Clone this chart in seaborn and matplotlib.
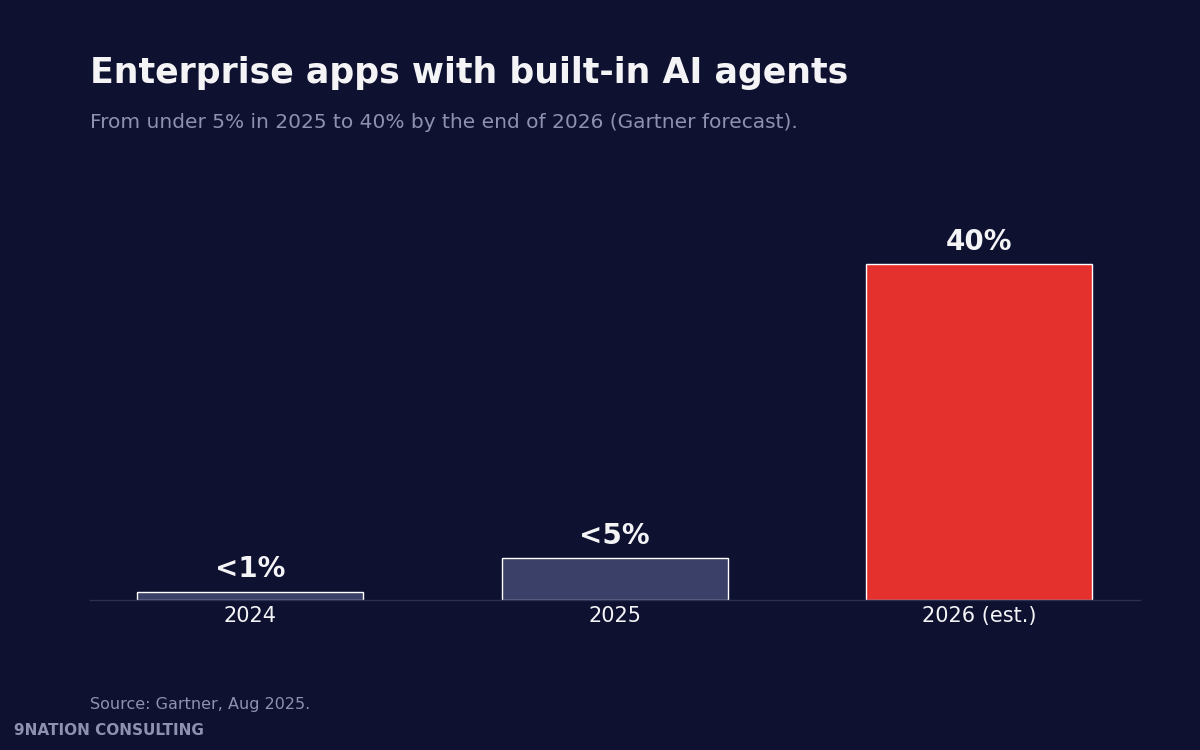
import matplotlib
matplotlib.use("Agg")
import matplotlib.pyplot as plt
import seaborn as sns
import pandas as pd

BG = "#0E1130"
MUTED_BAR = "#3B4068"
RED = "#E5312D"
LIGHT = "#F4F4F6"
MUTED = "#8E92B0"

years = ["2024", "2025", "2026 (est.)"]
shares = [1, 5, 40]
labels = ["<1%", "<5%", "40%"]
colors = [MUTED_BAR, MUTED_BAR, RED]

df = pd.DataFrame({"year": years, "share": shares})

sns.set_theme(style="white")
plt.rcParams["font.family"] = ["DejaVu Sans"]

fig = plt.figure(figsize=(12, 7.5), dpi=100, facecolor=BG)
ax = fig.add_axes([0.075, 0.2, 0.875, 0.56], facecolor=BG)

sns.barplot(data=df, x="year", y="share", hue="year", palette=colors,
            legend=False, width=0.62, saturation=1, ax=ax)

for i, (v, t) in enumerate(zip(shares, labels)):
    ax.text(i, v + 1.0, t, ha="center", va="bottom", color=LIGHT,
            fontsize=20, fontweight="bold")

ax.set_xlim(-0.44, 2.442)
ax.set_ylim(0, 50)
ax.set_xlabel("")
ax.set_ylabel("")
ax.set_yticks([])
for s in ["top", "right", "left"]:
    ax.spines[s].set_visible(False)
ax.spines["bottom"].set_color("#2C3052")
ax.spines["bottom"].set_linewidth(1)
ax.tick_params(axis="x", colors=LIGHT, labelsize=15, length=0, pad=4)

fig.text(0.075, 0.903, "Enterprise apps with built-in AI agents", color=LIGHT,
         fontsize=25, fontweight="bold", va="center")
fig.text(0.075, 0.837, "From under 5% in 2025 to 40% by the end of 2026 (Gartner forecast).",
         color=MUTED, fontsize=14.5, va="center")
fig.text(0.075, 0.061, "Source: Gartner, Aug 2025.", color=MUTED, fontsize=11.5, va="center")
fig.text(0.012, 0.026, "9NATION CONSULTING", color=MUTED, fontsize=11,
         fontweight="bold", va="center")

fig.savefig("out.png", dpi=100, facecolor=BG)
